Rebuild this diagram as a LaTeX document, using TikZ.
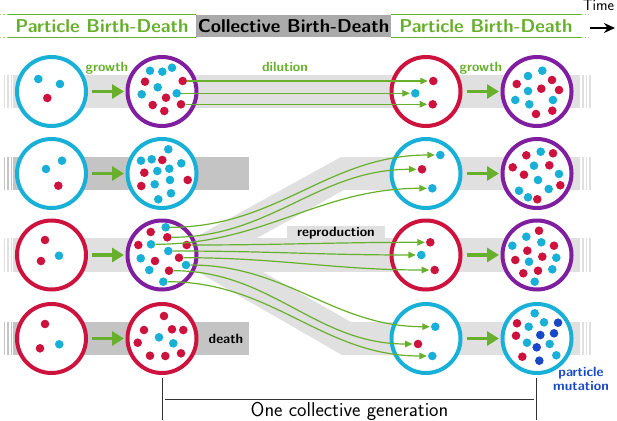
\documentclass[tikz,border=0pt]{standalone}
\usetikzlibrary{arrows.meta, positioning}
\definecolor{growGreen}{RGB}{104,176,44}
\definecolor{partCyan}{RGB}{24,176,214}
\definecolor{partRed}{RGB}{206,18,62}
\definecolor{collPurple}{RGB}{128,30,160}
\definecolor{mutBlue}{RGB}{24,72,200}
\definecolor{bandLight}{RGB}{224,224,224}
\definecolor{bandDark}{RGB}{196,196,196}
\definecolor{phaseGray}{RGB}{170,170,170}
\tikzset{
    % Population circles
    popCircle/.style={circle, draw=#1, line width=4pt, fill=white, minimum size=69pt, inner sep=0pt},
    % Particles
    particle/.style={circle, fill=#1, draw=none, inner sep=0pt, minimum size=8.6pt},
    % Text Styles
    phaseText/.style={font=\sffamily\bfseries\fontsize{18.6}{20}\selectfont, minimum height=22pt, inner sep=0pt},
    stageLabel/.style={font=\sffamily\bfseries\fontsize{13.5}{13.5}\selectfont, inner sep=0pt},
    % Arrow & Line Styles
    growArrow/.style={-{Triangle[length=12pt,width=14pt]}, line width=3.5pt, draw=growGreen, shorten <=4pt, shorten >=1.5pt},
    lineageArrow/.style={-{Triangle[length=7.5pt,width=6.5pt]}, line width=1.2pt, draw=growGreen, shorten >=1pt},
    phaseLine/.style={draw=growGreen, line width=1.3pt},
    genLine/.style={draw=black!80, line width=0.9pt}
}
\begin{document}
\begin{tikzpicture}[x=1pt, y=-1pt]
    \useasboundingbox (0,0) rectangle (617,420);

    % --- Background bands ---
    \fill[bandLight] (13,75) rectangle (580,108);
    \fill[bandDark] (13,157) rectangle (249,190);
    \fill[bandLight] (13,238) rectangle (580,272);
    \fill[bandDark] (13,322) rectangle (249,355);
    \fill[bandLight] (194,238) -- (341,157) -- (580,157) -- (580,190) -- (344,190) -- (257,238) -- cycle;
    \fill[bandLight] (198,272) -- (342,355) -- (580,355) -- (580,322) -- (351,322) -- (263,272) -- cycle;
    \foreach \y/\h/\c in {75/108/bandLight, 157/190/bandDark, 238/272/bandLight, 322/355/bandDark} {
        \foreach \x in {3.5,7,10.5}
            \fill[\c] (\x,\y) rectangle (\x+1.5,\h);
    }
    \foreach \y/\h in {75/108, 157/190, 238/272, 322/355} {
        \foreach \x in {582,585.5,589}
            \fill[bandLight] (\x,\y) rectangle (\x+1.5,\h);
    }
    \node[stageLabel, fill=bandLight, minimum width=98pt, minimum height=14pt] (repro) at (336,233) {reproduction};

    % --- Phase bar ---
    \node[phaseText, text=growGreen, minimum width=188pt] (phase1) at (102,26) {Particle Birth-Death};
    \node[phaseText, fill=phaseGray, minimum width=195pt] (phase2) at (293.5,26) {Collective Birth-Death};
    \node[phaseText, text=growGreen, minimum width=190pt] (phase3) at (486,26) {Particle Birth-Death};
    \foreach \p in {phase1, phase3} {
        \draw[phaseLine] (\p.north west) -- (\p.north east);
        \draw[phaseLine] (\p.south west) -- (\p.south east);
    }
    \draw[phaseLine, draw=growGreen!60, dotted] (phase1.north west) -- ++(-8,0);
    \draw[phaseLine, draw=growGreen!60, dotted] (phase1.south west) -- ++(-8,0);
    \draw[phaseLine, draw=growGreen!60, dotted] (phase3.north east) -- ++(8,0);
    \draw[phaseLine, draw=growGreen!60, dotted] (phase3.south east) -- ++(8,0);
    \node[font=\sffamily\fontsize{15.5}{15.5}\selectfont, anchor=base, inner sep=0pt] (timeLbl) at (598.5,11) {Time};
    \coordinate (timeS) at (590,28);
    \coordinate (timeE) at (615,28);
    \draw[-{Stealth[length=11pt,width=10pt,inset=3.5pt]}, line width=1.4pt] (timeS) -- (timeE);

    % --- Population circles ---
    \foreach \r/\y/\ca/\cb/\cc/\cd in {1/91.5/partCyan/collPurple/partRed/collPurple,
                                      2/173.5/partCyan/partCyan/partCyan/collPurple,
                                      3/255/partRed/collPurple/partRed/collPurple,
                                      4/338.5/partRed/partRed/partCyan/partCyan} {
        \node[popCircle=\ca] (c1r\r) at (51.5,\y) {};
        \node[popCircle=\cb] (c2r\r) at (162,\y) {};
        \node[popCircle=\cc] (c3r\r) at (426,\y) {};
        \node[popCircle=\cd] (c4r\r) at (537,\y) {};
    }

    % --- Particles ---
    % cyan
    \foreach \p in {(38.3,79),(60,84),
                    (150,70.7),(162.3,71.7),(172,67.7),(157.7,87.3),(141.7,94.3),
                    (542.3,70.7),(528,76),(528,91),(515.3,100),(529.3,104.3),(553,100),
                    (46,169),(62,160.7),
                    (168.3,149.3),(141,160.7),(151.7,159.3),(181.3,163.3),(157.3,171),(169.3,168.7),(170,180),(154.7,184.3),(171,193.3),(158.3,199.3),
                    (540.7,151.7),(534,165.7),(559,174),(538,180),(519,190.7),(548.7,189),(528,197.3),
                    (59,255.7),
                    (140.7,258.3),(149.3,270),
                    (526.3,236.7),(512.3,245.7),(541.3,242.3),(529,261.7),(556.3,257.7),(552.3,269.3),(534.7,281.7),
                    (59.3,344.3),
                    (159,337.3),(173.3,343.3),
                    (534.7,313.3),(528.7,326.7),(544,322.3),(527,342.7),(549.7,344),(556.3,355.3)}
        \node[particle=partCyan] at \p {};
    % red
    \foreach \p in {(47.3,98),
                    (145,81.7),(166,97.7),(152.7,105),(164.3,111),
                    (516.7,84),(552,80),(541.3,88.7),(559,90),(536,114),(552.3,110.7),
                    (58.3,185.7),
                    (162.3,160),(144.3,172.7),(187.7,180),(141.3,186),
                    (526.3,155.3),(553,153.3),(512.7,167.3),(549.3,165.3),(524,174.7),(560.3,185.3),(537.3,199.3),
                    (45,240),(41,261),
                    (150.7,232),(138.3,245),(155,261),
                    (539,230.7),(554,245.7),(527.3,250.7),(515.3,260),(542.3,256.7),(523.3,273.3),(538,270.7),
                    (45,324),(40,348.3),
                    (164,316),(144,330),(172,329.3),(183.3,330),(137.7,342.7),(150,355.7),(165.3,356),(181,353.3),
                    (517,323.3),(516,335.7),(522.3,356.7)}
        \node[particle=partRed] at \p {};
    % mutants
    \foreach \p in {(558,322.7),(540.3,335),(554,333.3),(536.7,347.3),(539.3,360.7)}
        \node[particle=mutBlue] at \p {};

    % dilution
    \node[particle=partRed] (dS1) at (182.7,81) {};
    \node[particle=partCyan] (dS2) at (176.7,93.3) {};
    \node[particle=partRed] (dS3) at (181,104.3) {};
    \node[particle=partRed] (dE1) at (433.3,81) {};
    \node[particle=partCyan] (dE2) at (415.3,93.3) {};
    \node[particle=partRed] (dE3) at (432.7,104.3) {};
    % reproduction (upper, middle, lower)
    \node[particle=partCyan] (uS1) at (165.7,227.3) {};
    \node[particle=partRed] (uS2) at (167.3,237.3) {};
    \node[particle=partCyan] (uS3) at (151,244.3) {};
    \node[particle=partRed] (mS1) at (186.7,245) {};
    \node[particle=partCyan] (mS2) at (168.3,251) {};
    \node[particle=partRed] (mS3) at (179,257.7) {};
    \node[particle=partCyan] (lS1) at (186,265) {};
    \node[particle=partRed] (lS2) at (169,270.7) {};
    \node[particle=partCyan] (lS3) at (163.3,281.7) {};
    \node[particle=partCyan] (uE1) at (440.3,155) {};
    \node[particle=partRed] (uE2) at (422,169.3) {};
    \node[particle=partCyan] (uE3) at (432.3,188.3) {};
    \node[particle=partRed] (mE1) at (430.3,242.3) {};
    \node[particle=partCyan] (mE2) at (421.3,255) {};
    \node[particle=partRed] (mE3) at (434.7,270) {};
    \node[particle=partCyan] (lE1) at (435.3,326.7) {};
    \node[particle=partRed] (lE2) at (418,344) {};
    \node[particle=partCyan] (lE3) at (432.3,356) {};

    % --- Arrows ---
    \foreach \r in {1,...,4} {
        \draw[growArrow] (c1r\r) -- (c2r\r);
        \draw[growArrow] (c3r\r) -- (c4r\r);
    }
    \foreach \i in {1,2,3}
        \draw[lineageArrow] (dS\i) -- (dE\i);
    \foreach \g in {u,m,l}
        \foreach \i in {1,2,3}
            \draw[lineageArrow] (\g S\i) to[out=0, in=180] (\g E\i);

    % --- Labels ---
    \node[stageLabel, text=growGreen, anchor=base] (lblGrowL) at (107,71) {growth};
    \node[stageLabel, text=growGreen, anchor=base] (lblDil) at (285,71) {dilution};
    \node[stageLabel, text=growGreen, anchor=base] (lblGrowR) at (481,71) {growth};
    \node[stageLabel, anchor=base] (lblDeath) at (226,343) {death};
    \node[stageLabel, text=mutBlue, align=center] (lblMut) at (581,379) {particle\\mutation};

    % --- One collective generation ---
    \coordinate (genLt) at (162,378);
    \coordinate (genLb) at (162,420);
    \coordinate (genRt) at (536.5,378);
    \coordinate (genRb) at (536.5,420);
    \coordinate (genA) at (165,399);
    \coordinate (genB) at (534,399);
    \draw[genLine] (genLt) -- (genLb);
    \draw[genLine] (genRt) -- (genRb);
    \draw[genLine] (genA) -- (genB);
    \node[font=\sffamily\fontsize{20}{20}\selectfont, anchor=base, inner sep=0pt] (genText) at (349.5,416) {One collective generation};

\end{tikzpicture}
\end{document}
